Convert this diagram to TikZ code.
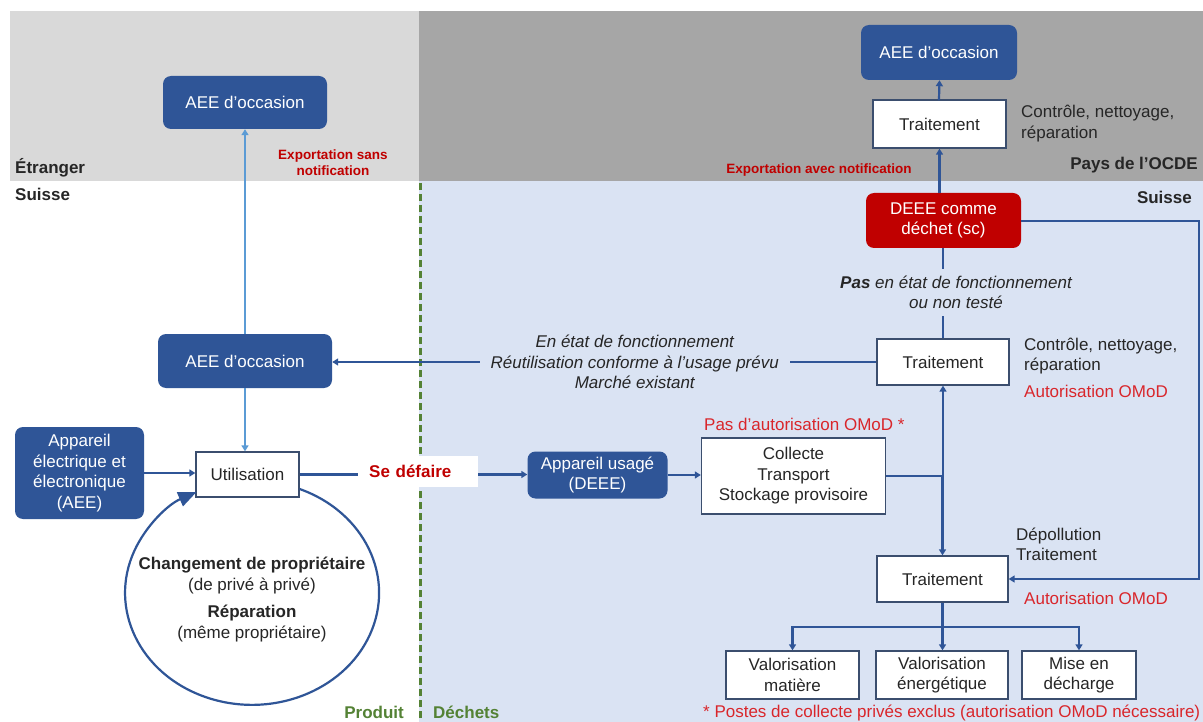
\documentclass[tikz,border=0pt]{standalone}
\usepackage{fontspec}
\setmainfont{Liberation Sans}
\usetikzlibrary{arrows.meta,calc}
\definecolor{dblue}{HTML}{2F5597}
\definecolor{lblue}{HTML}{5B9BD5}
\definecolor{bgblue}{HTML}{DAE3F3}
\definecolor{lgray}{HTML}{D9D9D9}
\definecolor{dgray}{HTML}{A6A6A6}
\definecolor{dred}{HTML}{C00000}
\definecolor{rtxt}{HTML}{D9262B}
\definecolor{gtxt}{HTML}{548235}
\definecolor{ink}{HTML}{262626}
\definecolor{bord}{HTML}{3B4E6E}
\newcommand\fsn{\fontsize{17}{20.5}\selectfont}
\newcommand\fss{\fontsize{13.5}{16}\selectfont}
\tikzset{
 bbox/.style={rounded corners=8pt, fill=dblue, text=white, align=center},
 rbox/.style={rounded corners=8pt, fill=dred, text=white, align=center},
 wbox/.style={draw=bord, line width=1.3pt, fill=white, align=center},
 flow/.style={draw=dblue, line width=2.2pt, -{Triangle[length=6pt,width=7pt]}},
 plainline/.style={draw=dblue, line width=2.2pt},
 lflow/.style={draw=lblue, line width=2.2pt, -{Triangle[length=6pt,width=7pt]}},
 note/.style={align=left, anchor=west},
 rnote/.style={text=rtxt, align=left, anchor=west},
 xnote/.style={text=dred, font=\fss\bfseries, align=center},
 lbl/.style={font=\fsn\bfseries},
}
\begin{document}
\begin{tikzpicture}[x=1pt,y=-1pt, every node/.style={inner sep=0pt, text=ink, font=\fsn}]
\useasboundingbox (0,0) rectangle (1203,722);
% backgrounds
\fill[white] (0,0) rectangle (1203,722);
\fill[lgray] (10,11) rectangle (419,181);
\fill[dgray] (419,11) rectangle (1203,181);
\fill[bgblue] (419,181) rectangle (1203,722);
\draw[gtxt, line width=3pt, dash pattern=on 7pt off 4pt] (420,183) -- (420,722);

% region labels
\node[lbl, anchor=west] (etr) at (15,168) {Étranger};
\node[lbl, anchor=west] (sui1) at (15,194) {Suisse};
\node[lbl, anchor=east] (ocde) at (1198,165) {Pays de l’OCDE};
\node[lbl, anchor=east] (sui2) at (1192,197) {Suisse};
\node[xnote] (exs) at (333,163) {Exportation sans\\notification};
\node[xnote] (exa) at (819,170) {Exportation avec notification};
\node[lbl, text=gtxt, anchor=east] (prod) at (404,712) {Produit};
\node[lbl, text=gtxt, anchor=west] (dech) at (433,712) {Déchets};

% boxes
\node[bbox, minimum width=164pt, minimum height=53pt] (aeeTL) at (245,102.5) {AEE d’occasion};
\node[bbox, minimum width=156pt, minimum height=55pt] (aeeTR) at (939,52.5) {AEE d’occasion};
\node[wbox, minimum width=133pt, minimum height=48pt] (trt) at (939.5,124) {Traitement};
\node[rbox, minimum width=155pt, minimum height=55pt] (deee) at (943.5,220.5) {DEEE comme\\déchet (sc)};
\node[wbox, minimum width=132pt, minimum height=46pt] (trm) at (943,362) {Traitement};
\node[bbox, minimum width=174pt, minimum height=54pt] (aeeM) at (245,361) {AEE d’occasion};
\node[bbox, minimum width=129pt, minimum height=92pt] (appl) at (79.5,473) {Appareil\\électrique et\\électronique\\(AEE)};
\node[wbox, minimum width=103pt, minimum height=45pt] (util) at (247.5,474.5) {Utilisation};
\node[bbox, minimum width=140pt, minimum height=47pt] (usage) at (597.5,475) {Appareil usagé\\(DEEE)};
\node[wbox, minimum width=184pt, minimum height=76pt] (coll) at (793.5,476) {Collecte\\Transport\\Stockage provisoire};
\node[wbox, minimum width=131pt, minimum height=46pt] (trb) at (942.5,579) {Traitement};
\node[wbox, minimum width=133pt, minimum height=48pt] (vm) at (792.5,675) {Valorisation\\matière};
\node[wbox, minimum width=132pt, minimum height=48pt] (ve) at (942,675) {Valorisation\\énergétique};
\node[wbox, minimum width=114pt, minimum height=48pt] (md) at (1079,675) {Mise en\\décharge};

% side notes
\node[note] (n1) at (1021,123.5) {Contrôle, nettoyage,\\réparation};
\node[note] (n2) at (1024,356) {Contrôle, nettoyage,\\réparation};
\node[rnote] (n3) at (1024,391) {Autorisation OMoD};
\node[note] (n4) at (1016,544.5) {Dépollution\\Traitement};
\node[rnote] (n5) at (1024,598) {Autorisation OMoD};
\node[rnote] (n6) at (704,424) {Pas d’autorisation OMoD *};
\node[rnote] (n7) at (703,713) {* Postes de collecte privés exclus (autorisation OMoD nécessaire)};

% circle text
\node[align=center] (ca) at (252,575.5) {\textbf{Changement de propriétaire}\\(de privé à privé)};
\node[align=center] (cb) at (252,623.5) {\textbf{Réparation}\\(même propriétaire)};

% connectors
\draw[flow] (trt.north) -- (trt.north -| aeeTR.south) -- (aeeTR.south -| trt.north);
\draw[flow] (trt.south |- deee.north) -- (trt.south);
\draw[plainline] (trm.north) -- node[pos=0.51, xshift=13pt, fill=bgblue, inner xsep=4pt, inner ysep=7pt, align=center, font=\fsn\itshape] (lab2) {\textbf{\textit{Pas}} en état de fonctionnement\\ou non testé} (trm.north |- deee.south);
\coordinate (rc) at (1199,221);
\draw[flow] (deee.east |- rc) -- (rc) |- (trb.east);
\draw[flow] (trm.west) -- node[pos=0.444, fill=bgblue, inner xsep=11pt, inner ysep=3pt, align=center, font=\fsn\itshape] (lab1) {En état de fonctionnement\\Réutilisation conforme à l’usage prévu\\Marché existant} (trm.west -| aeeM.east);
\draw[lflow] (aeeM.north) -- (aeeTL.south);
\draw[lflow] (aeeM.south) -- (aeeM.south |- util.north);
\draw[flow] (appl.east) -- (appl.east -| util.west);
\draw[flow] (util.east) -- (util.east -| usage.west);
\node[fill=white, anchor=west, text=dred, font=\fsn\bfseries, minimum height=31pt, text width=98pt, inner xsep=11pt, align=left] (sedef) at (358,471) {Se défaire};
\draw[flow] (usage.east) -- (usage.east -| coll.west);
\draw[flow] (coll.east) -| (trm.south);
\draw[flow] (coll.east) -| (trb.north);
\draw[plainline] (trb.south) -- ++(0,24) coordinate (br);
\draw[flow] (br) -| (vm.north);
\draw[flow] (br) -- (ve.north -| br);
\draw[flow] (br) -| (md.north);
% loop around Utilisation
\draw[draw=dblue, line width=2.2pt, -{Triangle[length=18pt,width=15pt]}] (util.east |- 0,489) arc[start angle=-68, end angle=244, x radius=127, y radius=112];
\end{tikzpicture}
\end{document}
